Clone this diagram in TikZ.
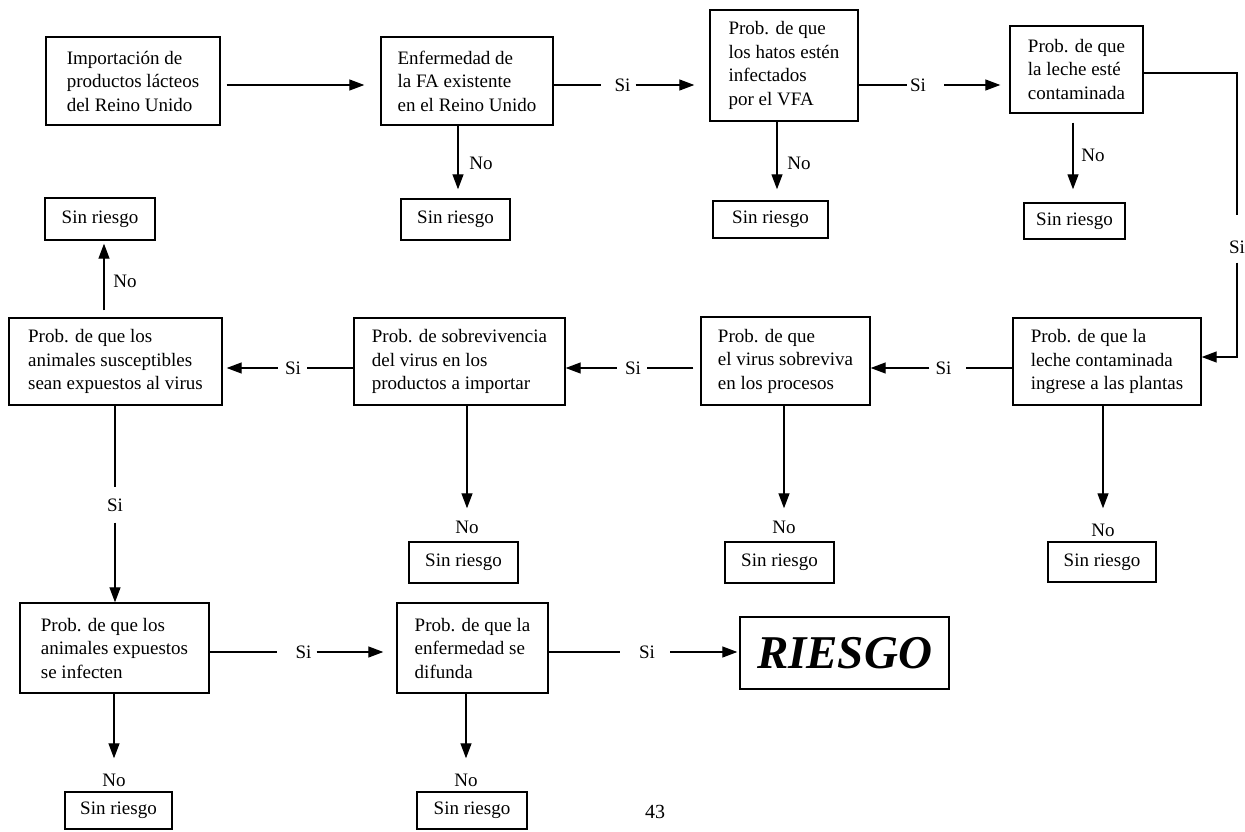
\documentclass[tikz,border=0pt]{standalone}
\usepackage{fontspec}
\setmainfont{Liberation Serif}
\usetikzlibrary{arrows.meta}
\begin{document}
\begin{tikzpicture}[x=1pt,y=-1pt,
  txt/.style={font=\fontsize{19}{23.5}\selectfont},
  box/.style={draw, line width=1.4pt, align=left, inner sep=0pt, txt},
  srbox/.style={draw, line width=1.4pt, inner sep=0pt, txt},
  lbl/.style={inner sep=0pt, text height=13pt, text depth=0pt, txt},
  line/.style={line width=1.3pt},
  arr/.style={line width=1.3pt, -{Triangle[length=15pt,width=11pt]}}]
\useasboundingbox (0,0) rectangle (1245,832);

% main boxes
\node[box, minimum width=174pt, minimum height=88pt] (b1) at (133,81) {Importación de\\productos lácteos\\del Reino Unido};
\node[box, minimum width=172pt, minimum height=88pt] (b2) at (467,81) {Enfermedad de\\la FA existente\\en el Reino Unido};
\node[box, minimum width=148pt, minimum height=111pt] (b3) at (784,65.5) {Prob. de que\\los hatos estén\\infectados\\por el VFA};
\node[box, minimum width=133pt, minimum height=87pt] (b4) at (1076.5,69.5) {Prob. de que\\la leche esté\\contaminada};
\node[box, minimum width=213pt, minimum height=87pt] (bA) at (115.5,361.5) {Prob. de que los\\animales susceptibles\\sean expuestos al virus};
\node[box, minimum width=211pt, minimum height=87pt] (bB) at (459.5,361.5) {Prob. de sobrevivencia\\del virus en los\\productos a importar};
\node[box, minimum width=169pt, minimum height=88pt] (bC) at (785.5,361) {Prob. de que\\el virus sobreviva\\en los procesos};
\node[box, minimum width=188pt, minimum height=87pt] (bD) at (1107,361.5) {Prob. de que la\\leche contaminada\\ingrese a las plantas};
\node[box, minimum width=189pt, minimum height=90pt] (bE) at (114.5,648) {Prob. de que los\\animales expuestos\\se infecten};
\node[box, minimum width=151pt, minimum height=90pt] (bF) at (472.5,648) {Prob. de que la\\enfermedad se\\difunda};
\node[draw, line width=1.4pt, inner sep=0pt, minimum width=209pt, minimum height=72pt,
      font=\fontsize{47}{50}\selectfont\bfseries\itshape] (bR) at (844.5,653) {RIESGO};

% Sin riesgo boxes
\node[srbox, minimum width=110pt, minimum height=42pt] (sr0) at (100,219) {Sin riesgo};
\node[srbox, minimum width=109pt, minimum height=41pt] (sr2) at (455.5,219.5) {Sin riesgo};
\node[srbox, minimum width=115pt, minimum height=37pt] (sr3) at (770.5,219.5) {Sin riesgo};
\node[srbox, minimum width=101pt, minimum height=36pt] (sr4) at (1074.5,221) {Sin riesgo};
\node[srbox, minimum width=109pt, minimum height=41pt] (srB) at (463.5,562.5) {Sin riesgo};
\node[srbox, minimum width=109pt, minimum height=41pt] (srC) at (779.5,562.5) {Sin riesgo};
\node[srbox, minimum width=108pt, minimum height=40pt] (srD) at (1102,562) {Sin riesgo};
\node[srbox, minimum width=107pt, minimum height=37pt] (srE) at (118.5,810.5) {Sin riesgo};
\node[srbox, minimum width=110pt, minimum height=37pt] (srF) at (472,810.5) {Sin riesgo};

% labels
\node[lbl] (s12) at (622.5,85) {Si};
\node[lbl] (s23) at (918,85) {Si};
\node[lbl] (s4D) at (1237,247) {Si};
\node[lbl] (sDC) at (943.5,368) {Si};
\node[lbl] (sCB) at (633,368) {Si};
\node[lbl] (sBA) at (293,368) {Si};
\node[lbl] (sAE) at (115,505) {Si};
\node[lbl] (sEF) at (303.5,652) {Si};
\node[lbl] (sFR) at (647,652) {Si};

\node[lbl] (no2) at (481,163) {No};
\node[lbl] (no3) at (799,163) {No};
\node[lbl] (no4) at (1093,155) {No};
\node[lbl] (no0) at (125,281) {No};
\node[lbl] (noB) at (467,527) {No};
\node[lbl] (noC) at (784,527) {No};
\node[lbl] (noD) at (1103,530) {No};
\node[lbl] (noE) at (114,780) {No};
\node[lbl] (noF) at (466,780) {No};

\node[inner sep=0pt, font=\fontsize{20}{22}\selectfont] (pg) at (655,812) {43};

% helper coordinates
\coordinate (r85) at (0,85);
\coordinate (k1) at (1237,73);
\coordinate (k2) at (1237,357);
\coordinate (v2) at (458,0);
\coordinate (v3) at (777,0);
\coordinate (v4) at (1073,0);
\coordinate (vA) at (104,0);

% top row
\draw[arr, shorten <=6pt, shorten >=16pt] (b1.east |- r85) -- (b2.west |- r85);
\draw[line, shorten >=13pt] (b2.east |- s12) -- (s12.west);
\draw[arr, shorten <=5pt, shorten >=15pt] (s12.east) -- (s12.east -| b3.west);
\draw[line, shorten >=3pt] (b3.east |- s23) -- (s23.west);
\draw[arr, shorten <=18pt, shorten >=9pt] (s23.east) -- (s23.east -| b4.west);
\draw[line, shorten >=25pt] (b4.east |- k1) -- (k1) -- (s4D.north);
\draw[arr, shorten <=9pt] (s4D.south) -- (k2) -- (k2 -| bD.east);

% downward No arrows, top row
\draw[arr, shorten >=9pt] (b2.south -| v2) -- (sr2.north -| v2);
\draw[arr, shorten >=11pt] (b3.south -| v3) -- (sr3.north -| v3);
\draw[arr, shorten <=9pt, shorten >=13pt] (b4.south -| v4) -- (sr4.north -| v4);
\draw[arr, shorten <=7pt, shorten >=3pt] (bA.north -| vA) -- (sr0.south -| vA);

% middle row
\draw[line, shorten >=14pt] (bD.west |- sDC) -- (sDC.east);
\draw[arr, shorten <=6pt] (sDC.west) -- (sDC.west -| bC.east);
\draw[line, shorten <=7pt, shorten >=6pt] (bC.west |- sCB) -- (sCB.east);
\draw[arr, shorten <=8pt] (sCB.west) -- (sCB.west -| bB.east);
\draw[line, shorten >=6pt] (bB.west |- sBA) -- (sBA.east);
\draw[arr, shorten <=7pt, shorten >=4pt] (sBA.west) -- (sBA.west -| bA.east);

\draw[arr, shorten >=12pt] (bB.south -| noB) -- (noB.north);
\draw[arr, shorten >=12pt] (bC.south -| noC) -- (noC.north);
\draw[arr, shorten >=15pt] (bD.south -| noD) -- (noD.north);
\draw[line, shorten >=11pt] (bA.south -| sAE) -- (sAE.north);
\draw[arr, shorten <=11pt] (sAE.south) -- (sAE.south |- bE.north);

% bottom row
\draw[line, shorten >=18pt] (bE.east |- sEF) -- (sEF.west);
\draw[arr, shorten <=5pt, shorten >=13pt] (sEF.east) -- (sEF.east -| bF.west);
\draw[line, shorten >=19pt] (bF.east |- sFR) -- (sFR.west);
\draw[arr, shorten <=15pt, shorten >=2pt] (sFR.east) -- (sFR.east -| bR.west);
\draw[arr, shorten >=15pt] (bE.south -| noE) -- (noE.north);
\draw[arr, shorten >=15pt] (bF.south -| noF) -- (noF.north);
\end{tikzpicture}
\end{document}
